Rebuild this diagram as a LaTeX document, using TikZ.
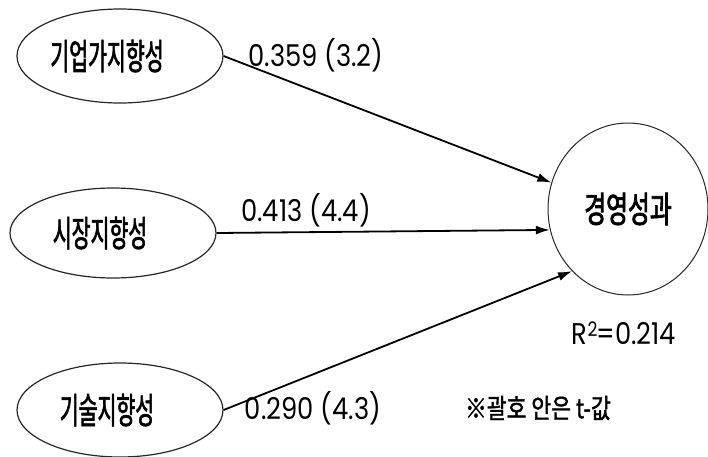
\documentclass[tikz,border=0pt]{standalone}
\usepackage{fontspec}
\setmainfont{Poppins}
\newfontfamily\numfont[FakeStretch=0.86]{Poppins}
\newfontfamily\kr[FakeStretch=0.57, FakeBold=1.6]{Noto Sans CJK KR}
\newfontfamily\krwide[FakeStretch=0.66, FakeBold=2]{Noto Sans CJK KR}
\newfontfamily\krnote[FakeStretch=0.8, FakeBold=1.4]{Noto Sans CJK KR}
\usetikzlibrary{shapes.geometric}
\usetikzlibrary{arrows.meta}

\tikzset{
  factor/.style={draw=black!85, line width=0.6pt, ellipse, minimum width=103pt,
    minimum height=47pt, inner sep=0pt, font=\kr\fontsize{18}{20}\selectfont},
  coef/.style={inner sep=0pt, font=\numfont\fontsize{15}{17}\selectfont},
  effect/.style={-{Latex[length=7pt,width=4.5pt]}, line width=0.9pt}
}

\begin{document}
\begin{tikzpicture}[x=0.5pt, y=-0.5pt]
\useasboundingbox (0,0) rectangle (708,456);

% factors
\node[factor] (ent) at (120,56) {기업가지향성\kern13pt};
\node[factor, minimum height=45pt] (mkt) at (113,233) {시장지향성\kern13pt};
\node[factor] (tech) at (120,410) {기술지향성\kern13pt};

% outcome
\node[draw=black!85, line width=0.5pt, ellipse, minimum width=80pt, minimum height=86pt,
  inner sep=0pt, font=\krwide\fontsize{18}{20}\selectfont] (perf) at (628,209) {경영성과};

% paths
\draw[effect] (ent.east) -- (perf.161);
\draw[effect] (mkt.east) -- (perf.195);
\draw[effect] (tech.east) -- (perf.228);

\node[coef] (c1) at (316,55) {0.359 (3.2)};
\node[coef] (c2) at (306,210) {0.413 (4.4)};
\node[coef] (c3) at (313,408) {0.290 (4.3)};

\node[coef] (rsq) at (624,333) {R\raisebox{0.5ex}{\fontsize{10}{11}\selectfont 2}\kern-0.5pt=0.214};
\node[inner sep=0pt, font=\krnote\fontsize{13.5}{15}\selectfont] (note) at (538,408) {※괄호 안은 t-값};

\end{tikzpicture}
\end{document}
